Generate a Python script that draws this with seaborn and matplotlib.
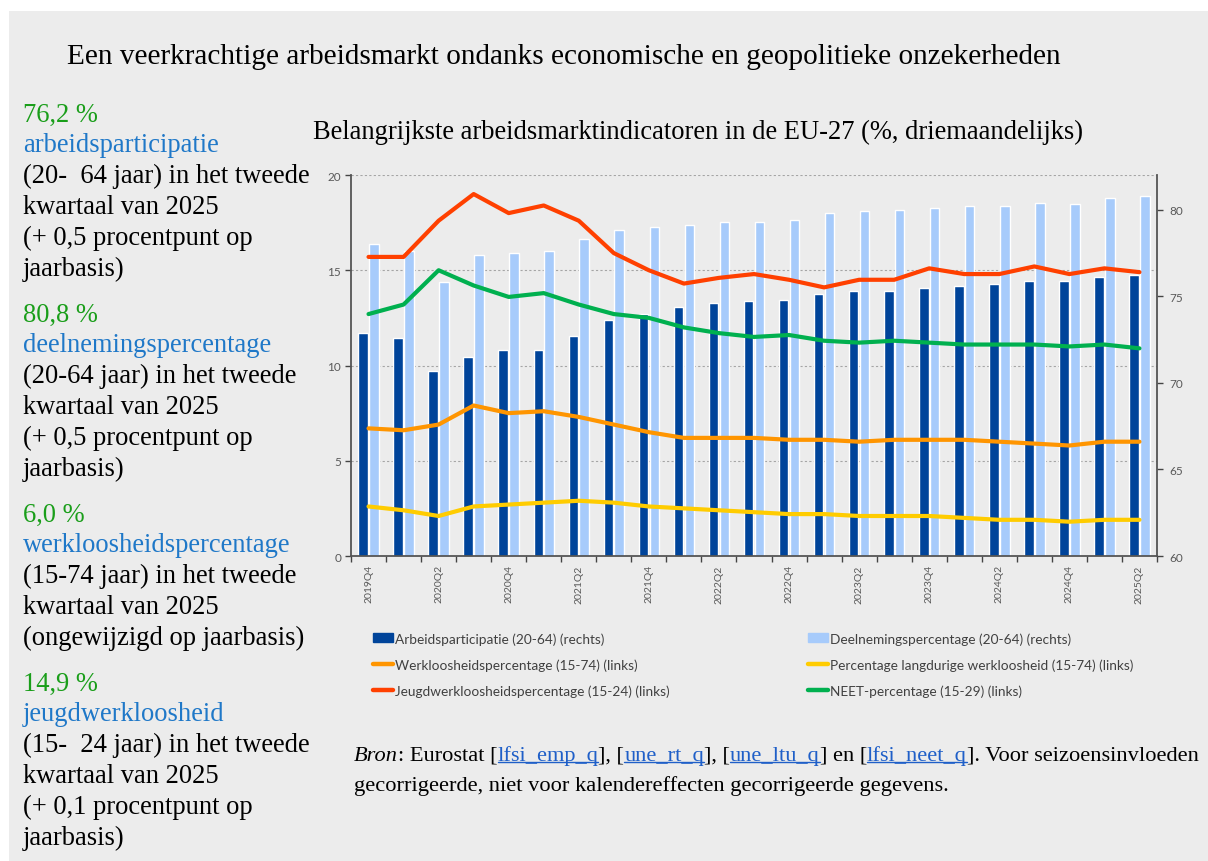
import numpy as np
import pandas as pd
import matplotlib
matplotlib.use("Agg")
import matplotlib.pyplot as plt
import seaborn as sns
from matplotlib.patches import Rectangle, Patch
from matplotlib.lines import Line2D

# Kwartalen (x-as)
kwartalen = ['2019Q4', '2020Q1', '2020Q2', '2020Q3', '2020Q4', '2021Q1', '2021Q2',
             '2021Q3', '2021Q4', '2022Q1', '2022Q2', '2022Q3', '2022Q4', '2023Q1',
             '2023Q2', '2023Q3', '2023Q4', '2024Q1', '2024Q2', '2024Q3', '2024Q4',
             '2025Q1', '2025Q2']

# Staven (rechteras)
arbeidsparticipatie = [72.9, 72.6, 70.7, 71.5, 71.9, 71.9, 72.7, 73.6, 74.0, 74.4, 74.6, 74.7,
                       74.8, 75.1, 75.3, 75.3, 75.5, 75.6, 75.7, 75.9, 75.9, 76.1, 76.2]
deelneming = [78.0, 77.6, 75.8, 77.4, 77.5, 77.6, 78.3, 78.8, 79.0, 79.1, 79.3, 79.3,
              79.4, 79.8, 79.9, 80.0, 80.1, 80.2, 80.2, 80.4, 80.3, 80.7, 80.8]

# Lijnen (linkeras)
werkloosheid = [6.7, 6.6, 6.9, 7.9, 7.5, 7.6, 7.3, 6.9, 6.5, 6.2, 6.2, 6.2,
                6.1, 6.1, 6.0, 6.1, 6.1, 6.1, 6.0, 5.9, 5.8, 6.0, 6.0]
langdurig = [2.6, 2.4, 2.1, 2.6, 2.7, 2.8, 2.9, 2.8, 2.6, 2.5, 2.4, 2.3,
             2.2, 2.2, 2.1, 2.1, 2.1, 2.0, 1.9, 1.9, 1.8, 1.9, 1.9]
jeugd = [15.7, 15.7, 17.6, 19.0, 18.0, 18.4, 17.6, 15.9, 15.0, 14.3, 14.6, 14.8,
         14.5, 14.1, 14.5, 14.5, 15.1, 14.8, 14.8, 15.2, 14.8, 15.1, 14.9]
neet = [12.7, 13.2, 15.0, 14.2, 13.6, 13.8, 13.2, 12.7, 12.5, 12.0, 11.7, 11.5,
        11.6, 11.3, 11.2, 11.3, 11.2, 11.1, 11.1, 11.1, 11.0, 11.1, 10.9]

staaf_namen = ['Arbeidsparticipatie (20-64) (rechts)', 'Deelnemingspercentage (20-64) (rechts)']
lijn_namen = ['Werkloosheidspercentage (15-74) (links)',
              'Percentage langdurige werkloosheid (15-74) (links)',
              'Jeugdwerkloosheidspercentage (15-24) (links)',
              'NEET-percentage (15-29) (links)']

kleuren = {
    staaf_namen[0]: '#00449a',
    staaf_namen[1]: '#a7cbfb',
    lijn_namen[0]: '#ff9500',
    lijn_namen[1]: '#ffcc00',
    lijn_namen[2]: '#ff4000',
    lijn_namen[3]: '#00b04f',
}

# Tekstblokken links
kerncijfers = [
    ('76,2 %', 'arbeidsparticipatie',
     ['(20-  64 jaar) in het tweede', 'kwartaal van 2025', '(+ 0,5 procentpunt op', 'jaarbasis)']),
    ('80,8 %', 'deelnemingspercentage',
     ['(20-64 jaar) in het tweede', 'kwartaal van 2025', '(+ 0,5 procentpunt op', 'jaarbasis)']),
    ('6,0 %', 'werkloosheidspercentage',
     ['(15-74 jaar) in het tweede', 'kwartaal van 2025', '(ongewijzigd op jaarbasis)']),
    ('14,9 %', 'jeugdwerkloosheid',
     ['(15-  24 jaar) in het tweede', 'kwartaal van 2025', '(+ 0,1 procentpunt op', 'jaarbasis)']),
]

bron_delen = [('Bron', 'italic'), (': Eurostat [', 'normal'), ('lfsi_emp_q', 'link'),
              ('], [', 'normal'), ('une_rt_q', 'link'), ('], [', 'normal'),
              ('une_ltu_q', 'link'), ('] en [', 'normal'), ('lfsi_neet_q', 'link'),
              ('].  Voor seizoensinvloeden'.replace('  ', ' '), 'normal')]
bron_regel2 = 'gecorrigeerde, niet voor kalendereffecten gecorrigeerde gegevens.'

# Dataframes
staven = pd.DataFrame({
    'kwartaal': kwartalen * 2,
    'reeks': [staaf_namen[0]] * len(kwartalen) + [staaf_namen[1]] * len(kwartalen),
    'waarde': arbeidsparticipatie + deelneming,
})
lijnen = pd.DataFrame({
    'pos': list(range(len(kwartalen))) * 4,
    'reeks': sum([[n] * len(kwartalen) for n in lijn_namen], []),
    'waarde': werkloosheid + langdurig + jeugd + neet,
})

sns.set_style('ticks')
plt.rcParams['font.family'] = ['Lato', 'DejaVu Sans']

W, H = 1208, 862
BG = '#ececec'
fig = plt.figure(figsize=(W / 100, H / 100), dpi=100, facecolor='white')
fig.patches.append(Rectangle((9 / W, -0.01), 1.01, 1.01 - 12 / H, transform=fig.transFigure,
                             facecolor=BG, edgecolor='none', zorder=-10))

ax = fig.add_axes([351 / W, 1 - 557 / H, (1157 - 351) / W, (557 - 176) / H])
ax_r = ax.twinx()

# staven op de rechteras
sns.barplot(data=staven, x='kwartaal', y='waarde', hue='reeks', order=kwartalen,
            hue_order=staaf_namen, palette=kleuren, width=0.62, gap=0.12,
            saturation=1, legend=False, ax=ax_r)
ax_r.set_ylim(60, 82)
ax_r.set_yticks([60, 65, 70, 75, 80])

# lijnen op de linkeras
sns.lineplot(data=lijnen, x='pos', y='waarde', hue='reeks', hue_order=lijn_namen,
             palette=kleuren, linewidth=3.0, legend=False, ax=ax)
ax.set_ylim(0, 20)
ax.set_yticks([0, 5, 10, 15, 20])
ax.set_zorder(ax_r.get_zorder() + 1)
ax.patch.set_visible(False)

# rasterlijnen van de linkeras, achter de staven getekend
lo, hi = ax.get_ylim()
rlo, rhi = ax_r.get_ylim()
grid_pos = [rlo + (t - lo) / (hi - lo) * (rhi - rlo) for t in [5, 10, 15, 20]]
ax_r.set_yticks(grid_pos, minor=True)
ax_r.tick_params(axis='y', which='minor', length=0)
ax_r.grid(axis='y', which='minor', linestyle=(0, (2, 2)), color='#a5a5a5', linewidth=0.8)
ax_r.set_axisbelow(True)

# x-as
ax.set_xlim(-0.5, len(kwartalen) - 0.5)
ax.set_xticks(np.arange(-0.5, len(kwartalen), 1))
ax.set_xticklabels([])
ax.set_xticks(range(0, len(kwartalen), 2), [kwartalen[i] for i in range(0, len(kwartalen), 2)],
              minor=True)
ax.tick_params(axis='x', which='major', length=4, width=1, color='#444444', direction='out')
ax.tick_params(axis='x', which='minor', length=0, pad=6, labelrotation=90,
               labelsize=7.5, labelcolor='#595959')
ax.tick_params(axis='y', length=4, width=1, color='#444444', labelsize=8.5,
               labelcolor='#595959', pad=3)
ax_r.tick_params(axis='y', which='major', length=4, width=1, color='#444444', labelsize=8.5,
                 labelcolor='#595959', pad=5)
for a in (ax, ax_r):
    a.set_xlabel('')
    a.set_ylabel('')
for s in ['top', 'right']:
    ax.spines[s].set_visible(False)
for s in ['top', 'left', 'bottom']:
    ax_r.spines[s].set_visible(False)
for s in [ax.spines['left'], ax.spines['bottom'], ax_r.spines['right']]:
    s.set_color('#555555')
    s.set_linewidth(1.3)

# legenda in twee kolommen
def handle(naam):
    if naam in staaf_namen:
        return Patch(facecolor=kleuren[naam], edgecolor=kleuren[naam])
    return Line2D([], [], color=kleuren[naam], linewidth=3.2)

links = [staaf_namen[0], lijn_namen[0], lijn_namen[2]]
rechts = [staaf_namen[1], lijn_namen[1], lijn_namen[3]]
for namen, x0 in [(links, 373), (rechts, 808)]:
    leg = fig.legend([handle(n) for n in namen], namen, loc='upper left',
                     bbox_to_anchor=(x0 / W, 1 - 633 / H), frameon=False, borderpad=0,
                     borderaxespad=0, handlelength=1.5, handleheight=0.6, handletextpad=0.1,
                     labelspacing=1.0, prop={'size': 9.8})
    for t in leg.get_texts():
        t.set_color('#404040')

serif = ['Liberation Serif', 'DejaVu Serif']

# titels
fig.text(67 / W, 1 - 57 / H, 'Een veerkrachtige arbeidsmarkt ondanks economische en geopolitieke onzekerheden',
         family=serif, fontsize=21.1, va='center', ha='left', color='black')
fig.text(313 / W, 1 - 132 / H, 'Belangrijkste arbeidsmarktindicatoren in de EU-27 (%, driemaandelijks)',
         family=serif, fontsize=19.1, va='center', ha='left', color='black')

# kerncijfers links
y = 115
for waarde, naam, regels in kerncijfers:
    fig.text(23 / W, 1 - y / H, waarde, family=serif, fontsize=19.1, color='#1a9e1a', va='center')
    y += 30.8
    fig.text(23 / W, 1 - y / H, naam, family=serif, fontsize=19.1, color='#1f78c8', va='center')
    for r in regels:
        y += 30.8
        fig.text(23 / W, 1 - y / H, r, family=serif, fontsize=19.1, color='black', va='center')
    y += 46

# bronvermelding
renderer = fig.canvas.get_renderer()
x = 354
base = 1 - 761 / H
for tekst, soort in bron_delen:
    t = fig.text(x / W, base, tekst, family=serif, fontsize=16.1, va='baseline',
                 style='italic' if soort == 'italic' else 'normal',
                 color='#1f5fc8' if soort == 'link' else 'black')
    bb = t.get_window_extent(renderer)
    if soort == 'link':
        fig.add_artist(Line2D([bb.x0 / W, bb.x1 / W], [base - 2 / H, base - 2 / H],
                              transform=fig.transFigure, color='#1f5fc8', linewidth=1))
    x = bb.x1
fig.text(354 / W, 1 - 791 / H, bron_regel2, family=serif, fontsize=16.1, va='baseline', color='black')

fig.savefig('out.png', dpi=100, facecolor=fig.get_facecolor())
